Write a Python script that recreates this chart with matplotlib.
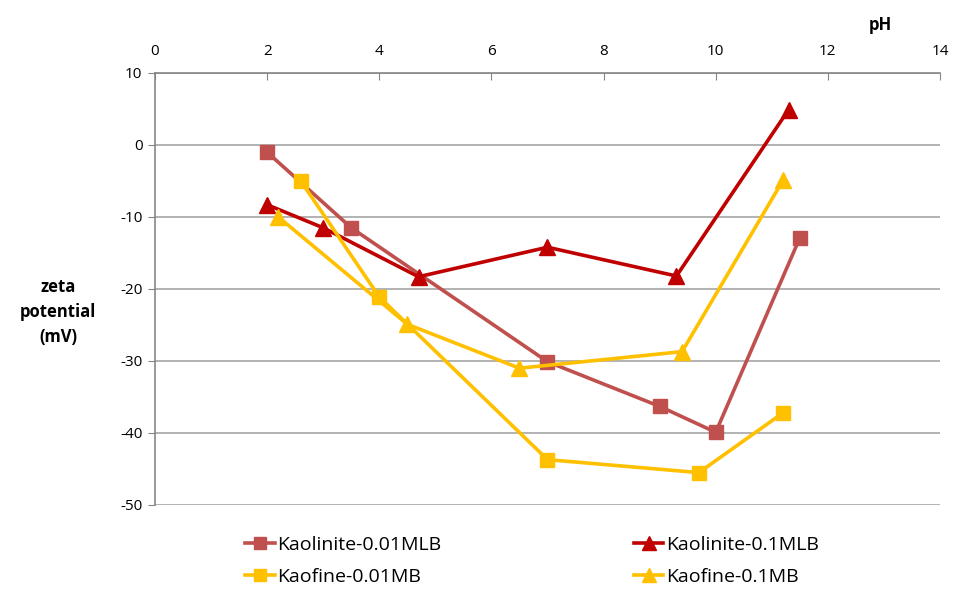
import matplotlib
matplotlib.use("Agg")
import matplotlib.pyplot as plt

plt.rcParams['font.family'] = ['Open Sans', 'DejaVu Sans']
plt.rcParams['axes.unicode_minus'] = False

kl001_x = [2, 3.5, 7, 9, 10, 11.5]
kl001_y = [-1, -11.5, -30.1, -36.3, -39.9, -12.9]
kl01_x = [2, 3, 4.7, 7, 9.3, 11.3]
kl01_y = [-8.3, -11.5, -18.3, -14.2, -18.2, 4.9]
kf001_x = [2.6, 4, 7, 9.7, 11.2]
kf001_y = [-5, -21.1, -43.7, -45.5, -37.2]
kf01_x = [2.2, 4.5, 6.5, 9.4, 11.2]
kf01_y = [-10, -24.9, -31, -28.7, -4.9]

xticks = [0, 2, 4, 6, 8, 10, 12, 14]
yticks = [10, 0, -10, -20, -30, -40, -50]

fig = plt.figure(figsize=(9.54, 5.9), dpi=100)
ax = fig.add_axes([155/954, 1-505/590, (940-155)/954, (505-73)/590])

lw = 2.6
l1, = ax.plot(kl001_x, kl001_y, color='#C0504D', lw=lw, marker='s', ms=10, label='Kaolinite-0.01MLB', zorder=3)
l2, = ax.plot(kl01_x, kl01_y, color='#C00000', lw=lw, marker='^', ms=11, label='Kaolinite-0.1MLB', zorder=3)
l3, = ax.plot(kf001_x, kf001_y, color='#FFC000', lw=lw, marker='s', ms=10, label='Kaofine-0.01MB', zorder=3)
l4, = ax.plot(kf01_x, kf01_y, color='#FFC000', lw=lw, marker='^', ms=11, label='Kaofine-0.1MB', zorder=3)

ax.set_xlim(0, 14)
ax.set_ylim(-50, 10)
ax.set_xticks(xticks)
ax.set_yticks(yticks)
ax.xaxis.tick_top()
ax.tick_params(axis='x', direction='in', length=5, color='#868686', labelsize=11, pad=10)
ax.tick_params(axis='y', direction='out', length=5, color='#868686', labelsize=11, pad=4)
for s in ['right', 'bottom']:
    ax.spines[s].set_visible(False)
for s in ['top', 'left']:
    ax.spines[s].set_color('#868686')
    ax.spines[s].set_linewidth(1.2)
ax.grid(axis='y', color='#A6A6A6', lw=1.2, zorder=0)
ax.set_axisbelow(True)

fig.text(880/954, 1-25/590, 'pH', fontsize=12, fontweight='bold', ha='center', va='center')
fig.text(58/954, 1-312/590, 'zeta\npotential\n(mV)', fontsize=12, fontweight='bold', ha='center', va='center', linespacing=1.5)

fig.legend(handles=[l1, l3, l2, l4], ncol=2, loc='center left', bbox_to_anchor=(228/954, 1-561/590),
           frameon=False, fontsize=14, columnspacing=9.9, handlelength=1.5, handletextpad=0.15,
           labelspacing=0.75, markerscale=0.9)

fig.savefig('out.png', dpi=100)
